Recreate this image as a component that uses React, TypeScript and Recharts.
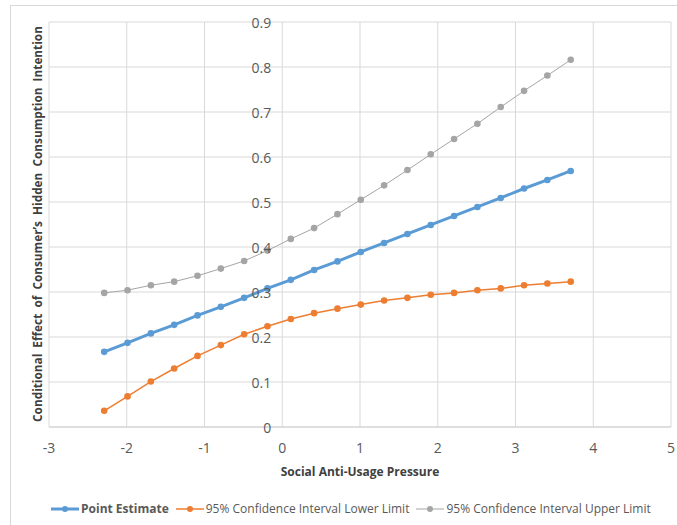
import React from 'react';
import { LineChart, Line, XAxis, YAxis, CartesianGrid, Legend } from 'recharts';

const xValues = [-2.29, -1.99, -1.69, -1.39, -1.09, -0.79, -0.49, -0.19, 0.11, 0.41, 0.71, 1.01, 1.31, 1.61, 1.91, 2.21, 2.51, 2.81, 3.11, 3.41, 3.71];
const pointEstimate = [0.167, 0.187, 0.208, 0.227, 0.248, 0.267, 0.287, 0.308, 0.327, 0.349, 0.368, 0.389, 0.409, 0.429, 0.449, 0.469, 0.489, 0.509, 0.53, 0.549, 0.569];
const lowerLimit = [0.036, 0.068, 0.101, 0.13, 0.158, 0.182, 0.206, 0.224, 0.24, 0.253, 0.263, 0.272, 0.281, 0.287, 0.294, 0.298, 0.304, 0.308, 0.315, 0.319, 0.323];
const upperLimit = [0.298, 0.304, 0.315, 0.323, 0.336, 0.352, 0.369, 0.392, 0.418, 0.442, 0.473, 0.505, 0.537, 0.571, 0.606, 0.64, 0.674, 0.711, 0.747, 0.781, 0.816];
const xTicks = [-3, -2, -1, 0, 1, 2, 3, 4, 5];
const yTicks = [0, 0.1, 0.2, 0.3, 0.4, 0.5, 0.6, 0.7, 0.8, 0.9];

const seriesNames = [
  'Point Estimate',
  '95% Confidence Interval Lower Limit',
  '95% Confidence Interval Upper Limit',
];
const xTitle = 'Social Anti-Usage Pressure';
const yTitle = 'Conditional  Effect  of  Consumer\u2019s  Hidden  Consumption  Intention';

const data = xValues.map((x, i) => ({
  x,
  pe: pointEstimate[i],
  lo: lowerLimit[i],
  up: upperLimit[i],
}));

const BLUE = '#5B9BD5';
const ORANGE = '#ED7D31';
const GRAY = '#A5A5A5';
const FONT = '"Open Sans", "Noto Sans", sans-serif';

const W = 677;
const H = 525;
const M = { top: 22, right: 6, left: 48, bottom: 68 };
const YW = 1;
const plotLeft = M.left + YW;
const plotW = W - plotLeft - M.right;
const zeroX = plotLeft + plotW * (3 / 8);

const YTick = (props: any) => {
  const { y, payload } = props;
  return (
    <text x={zeroX - 11} y={y} textAnchor="end" dominantBaseline="central" fill="#595959" fontSize={14} fontFamily={FONT}>
      {String(payload.value)}
    </text>
  );
};

const XTick = (props: any) => {
  const { x, y, payload } = props;
  return (
    <text x={x} y={y + 12} textAnchor="middle" dominantBaseline="central" fill="#595959" fontSize={14} fontFamily={FONT}>
      {String(payload.value)}
    </text>
  );
};

const legendItems = [
  { name: seriesNames[0], color: BLUE, sw: 3, r: 3, bold: true },
  { name: seriesNames[1], color: ORANGE, sw: 1.5, r: 3, bold: false },
  { name: seriesNames[2], color: GRAY, sw: 1, r: 3, bold: false },
];

const LegendContent = () => (
  <div style={{ display: 'flex', alignItems: 'center', paddingLeft: 51, fontFamily: FONT, fontSize: 12, color: '#595959', whiteSpace: 'nowrap' }}>
    {legendItems.map((it) => (
      <div key={it.name} style={{ display: 'flex', alignItems: 'center', marginRight: 7 }}>
        <svg width={28} height={10} style={{ marginRight: 2 }}>
          <line x1={0} y1={5} x2={28} y2={5} stroke={it.color} strokeWidth={it.sw} />
          <circle cx={14} cy={5} r={it.r} fill={it.color} />
        </svg>
        <span style={{ fontWeight: it.bold ? 700 : 400 }}>{it.name}</span>
      </div>
    ))}
  </div>
);

export default function App() {
  return (
    <div style={{ position: 'fixed', left: 0, top: 0, width: W, height: H, overflow: 'hidden', background: '#fff' }}>
      <div style={{ position: 'absolute', left: 10, top: 5, width: 720, height: 620, border: '1px solid #D9D9D9' }} />
      <div
        style={{
          position: 'absolute',
          left: 37,
          top: 224,
          transform: 'translate(-50%, -50%) rotate(-90deg)',
          whiteSpace: 'pre',
          fontFamily: FONT,
          fontWeight: 700,
          fontSize: 11.8,
          color: '#404040',
        }}
      >
        {yTitle}
      </div>
      <div style={{ position: 'absolute', top: 0, left: 0 }}>
        <LineChart width={W} height={H} data={data} margin={M}>
          <CartesianGrid stroke="#D9D9D9" strokeWidth={1} />
          <XAxis
            dataKey="x"
            type="number"
            domain={[-3, 5]}
            ticks={xTicks}
            interval={0}
            height={30}
            axisLine={{ stroke: '#D0D0D0' }}
            tickLine={false}
            tick={<XTick />}
            label={{ value: xTitle, position: 'bottom', offset: 10, fill: '#404040', fontSize: 12, fontWeight: 700, fontFamily: FONT }}
          />
          <YAxis
            type="number"
            domain={[0, 0.9]}
            ticks={yTicks}
            interval={0}
            width={YW}
            axisLine={false}
            tickLine={false}
            tick={<YTick />}
          />
          <Legend
            verticalAlign="middle"
            layout="horizontal"
            content={<LegendContent />}
            wrapperStyle={{ top: 500, left: 0, width: W }}
          />
          <Line dataKey="pe" name={seriesNames[0]} stroke={BLUE} strokeWidth={3} dot={{ r: 3.3, fill: BLUE, stroke: BLUE, strokeWidth: 0 }} isAnimationActive={false} />
          <Line dataKey="lo" name={seriesNames[1]} stroke={ORANGE} strokeWidth={1.5} dot={{ r: 3.3, fill: ORANGE, stroke: ORANGE, strokeWidth: 0 }} isAnimationActive={false} />
          <Line dataKey="up" name={seriesNames[2]} stroke={GRAY} strokeWidth={1} dot={{ r: 3.3, fill: GRAY, stroke: GRAY, strokeWidth: 0 }} isAnimationActive={false} />
        </LineChart>
      </div>
    </div>
  );
}
